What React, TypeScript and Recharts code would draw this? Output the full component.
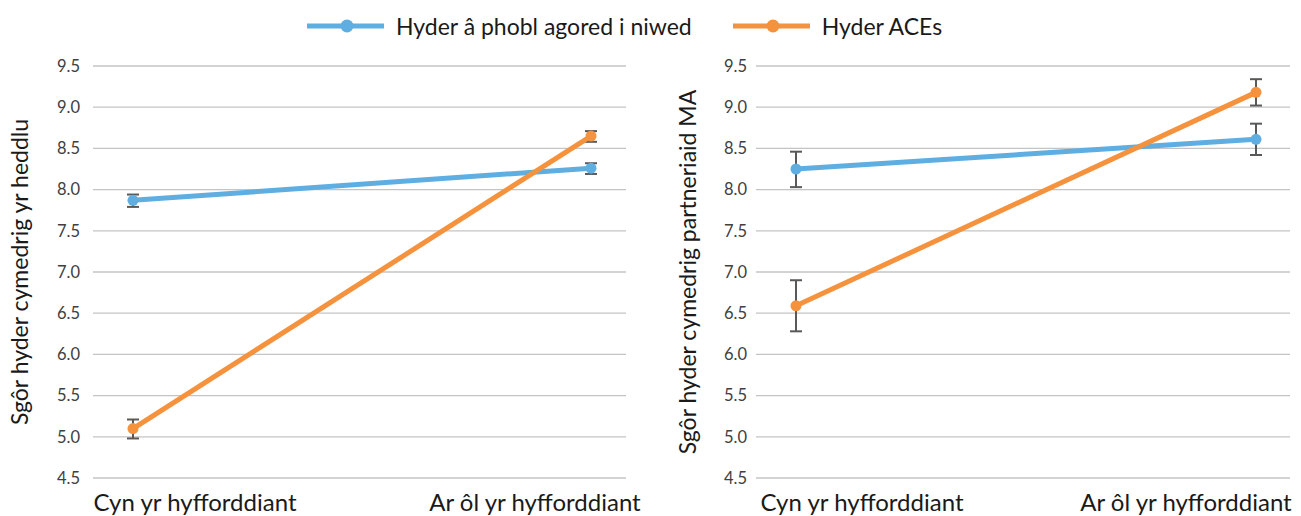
import React from 'react';
import { LineChart, Line, XAxis, YAxis, CartesianGrid, ErrorBar } from 'recharts';

const categories = ['Cyn yr hyfforddiant', 'Ar ôl yr hyfforddiant'];
const seriesNames = ['Hyder â phobl agored i niwed', 'Hyder ACEs'];
const seriesColors = ['#5eaee2', '#f5923e'];
const yTicks = [4.5, 5.0, 5.5, 6.0, 6.5, 7.0, 7.5, 8.0, 8.5, 9.0, 9.5];

// police panel
const policeVulnerable = [7.87, 8.26];
const policeVulnerableErr = [[0.08, 0.07], [0.07, 0.06]];
const policeAces = [5.1, 8.65];
const policeAcesErr = [[0.12, 0.11], [0.07, 0.06]];

// partner panel
const partnerVulnerable = [8.25, 8.61];
const partnerVulnerableErr = [[0.22, 0.21], [0.19, 0.19]];
const partnerAces = [6.59, 9.18];
const partnerAcesErr = [[0.31, 0.31], [0.16, 0.16]];

const FONT = 'Lato, "Open Sans", sans-serif';

const buildRows = (vul: number[], vulErr: number[][], aces: number[], acesErr: number[][]) =>
  categories.map((name, i) => ({
    name,
    vulnerable: vul[i],
    vulnerableErr: vulErr[i],
    aces: aces[i],
    acesErr: acesErr[i],
  }));

const policeData = buildRows(policeVulnerable, policeVulnerableErr, policeAces, policeAcesErr);
const partnerData = buildRows(partnerVulnerable, partnerVulnerableErr, partnerAces, partnerAcesErr);

const CategoryTick = (props: any) => {
  const { x, y, payload, index, shifts } = props;
  return (
    <text x={x + shifts[index]} y={y + 31} textAnchor="middle" fontSize={24} fill="#1a1a1a" fontFamily={FONT}>
      {payload.value}
    </text>
  );
};

interface PanelProps {
  data: any[];
  title: string;
  width: number;
  yAxisWidth: number;
  tickGap: number;
  marginRight: number;
  pad: { left: number; right: number };
  shifts: number[];
  titleX: number;
}

function Panel({ data, title, width, yAxisWidth, tickGap, marginRight, pad, shifts, titleX }: PanelProps) {
  return (
    <LineChart width={width} height={516} data={data} margin={{ top: 66, right: marginRight, bottom: 0, left: 0 }}>
      <CartesianGrid vertical={false} stroke="#c4c4c4" strokeWidth={1.3} />
      <XAxis
        dataKey="name"
        height={38}
        padding={pad}
        axisLine={false}
        tickLine={false}
        tickSize={0}
        interval={0}
        tick={(p: any) => <CategoryTick {...p} shifts={shifts} />}
      />
      <YAxis
        width={yAxisWidth}
        domain={[4.5, 9.5]}
        ticks={yTicks}
        interval={0}
        axisLine={false}
        tickLine={false}
        tickSize={0}
        tickMargin={tickGap}
        tickFormatter={(v: number) => v.toFixed(1)}
        tick={{ fontSize: 16.5, fill: '#404040', fontFamily: FONT }}
        label={{
          content: (p: any) => {
            const vb = p.viewBox || { x: 0, y: 66, height: 412 };
            const cx = vb.x + titleX;
            const cy = vb.y + vb.height / 2;
            return (
              <text
                x={cx}
                y={cy}
                transform={`rotate(-90, ${cx}, ${cy})`}
                textAnchor="middle"
                dominantBaseline="central"
                fontSize={23}
                fill="#1a1a1a"
                fontFamily={FONT}
              >
                {title}
              </text>
            );
          },
        }}
      />
      <Line
        dataKey="vulnerable"
        name={seriesNames[0]}
        stroke={seriesColors[0]}
        strokeWidth={5}
        dot={{ r: 5.5, fill: seriesColors[0], stroke: seriesColors[0], strokeWidth: 0 }}
        isAnimationActive={false}
      >
        <ErrorBar dataKey="vulnerableErr" width={6} stroke="#595959" strokeWidth={2} direction="y" />
      </Line>
      <Line
        dataKey="aces"
        name={seriesNames[1]}
        stroke={seriesColors[1]}
        strokeWidth={5}
        dot={{ r: 5.5, fill: seriesColors[1], stroke: seriesColors[1], strokeWidth: 0 }}
        isAnimationActive={false}
      >
        <ErrorBar dataKey="acesErr" width={6} stroke="#595959" strokeWidth={2} direction="y" />
      </Line>
    </LineChart>
  );
}

function Legend() {
  return (
    <div style={{ position: 'absolute', top: 12, left: 307, display: 'flex', alignItems: 'center', height: 28 }}>
      {seriesNames.map((n, i) => (
        <div key={n} style={{ display: 'flex', alignItems: 'center', marginRight: i === 0 ? 41 : 0 }}>
          <svg width={77} height={16}>
            <line x1={0} y1={8} x2={77} y2={8} stroke={seriesColors[i]} strokeWidth={5} />
            <circle cx={40} cy={8} r={6.5} fill={seriesColors[i]} />
          </svg>
          <span style={{ marginLeft: 12, fontSize: 23, color: '#1a1a1a', fontFamily: FONT, whiteSpace: 'nowrap' }}>{n}</span>
        </div>
      ))}
    </div>
  );
}

export default function App() {
  return (
    <div style={{ position: 'absolute', top: 0, left: 0, width: 1301, height: 516, background: '#fff', overflow: 'hidden' }}>
      <Legend />
      <div style={{ position: 'absolute', top: 0, left: 0 }}>
        <Panel
          data={policeData}
          title="Sgôr hyder cymedrig yr heddlu"
          width={650}
          yAxisWidth={93}
          tickGap={13}
          marginRight={24}
          pad={{ left: 40, right: 35 }}
          shifts={[62, -56]}
          titleX={19}
        />
      </div>
      <div style={{ position: 'absolute', top: 0, left: 650 }}>
        <Panel
          data={partnerData}
          title="Sgôr hyder cymedrig partneriaid MA"
          width={651}
          yAxisWidth={106}
          tickGap={9}
          marginRight={11}
          pad={{ left: 40, right: 34 }}
          shifts={[66, -70]}
          titleX={37}
        />
      </div>
    </div>
  );
}
